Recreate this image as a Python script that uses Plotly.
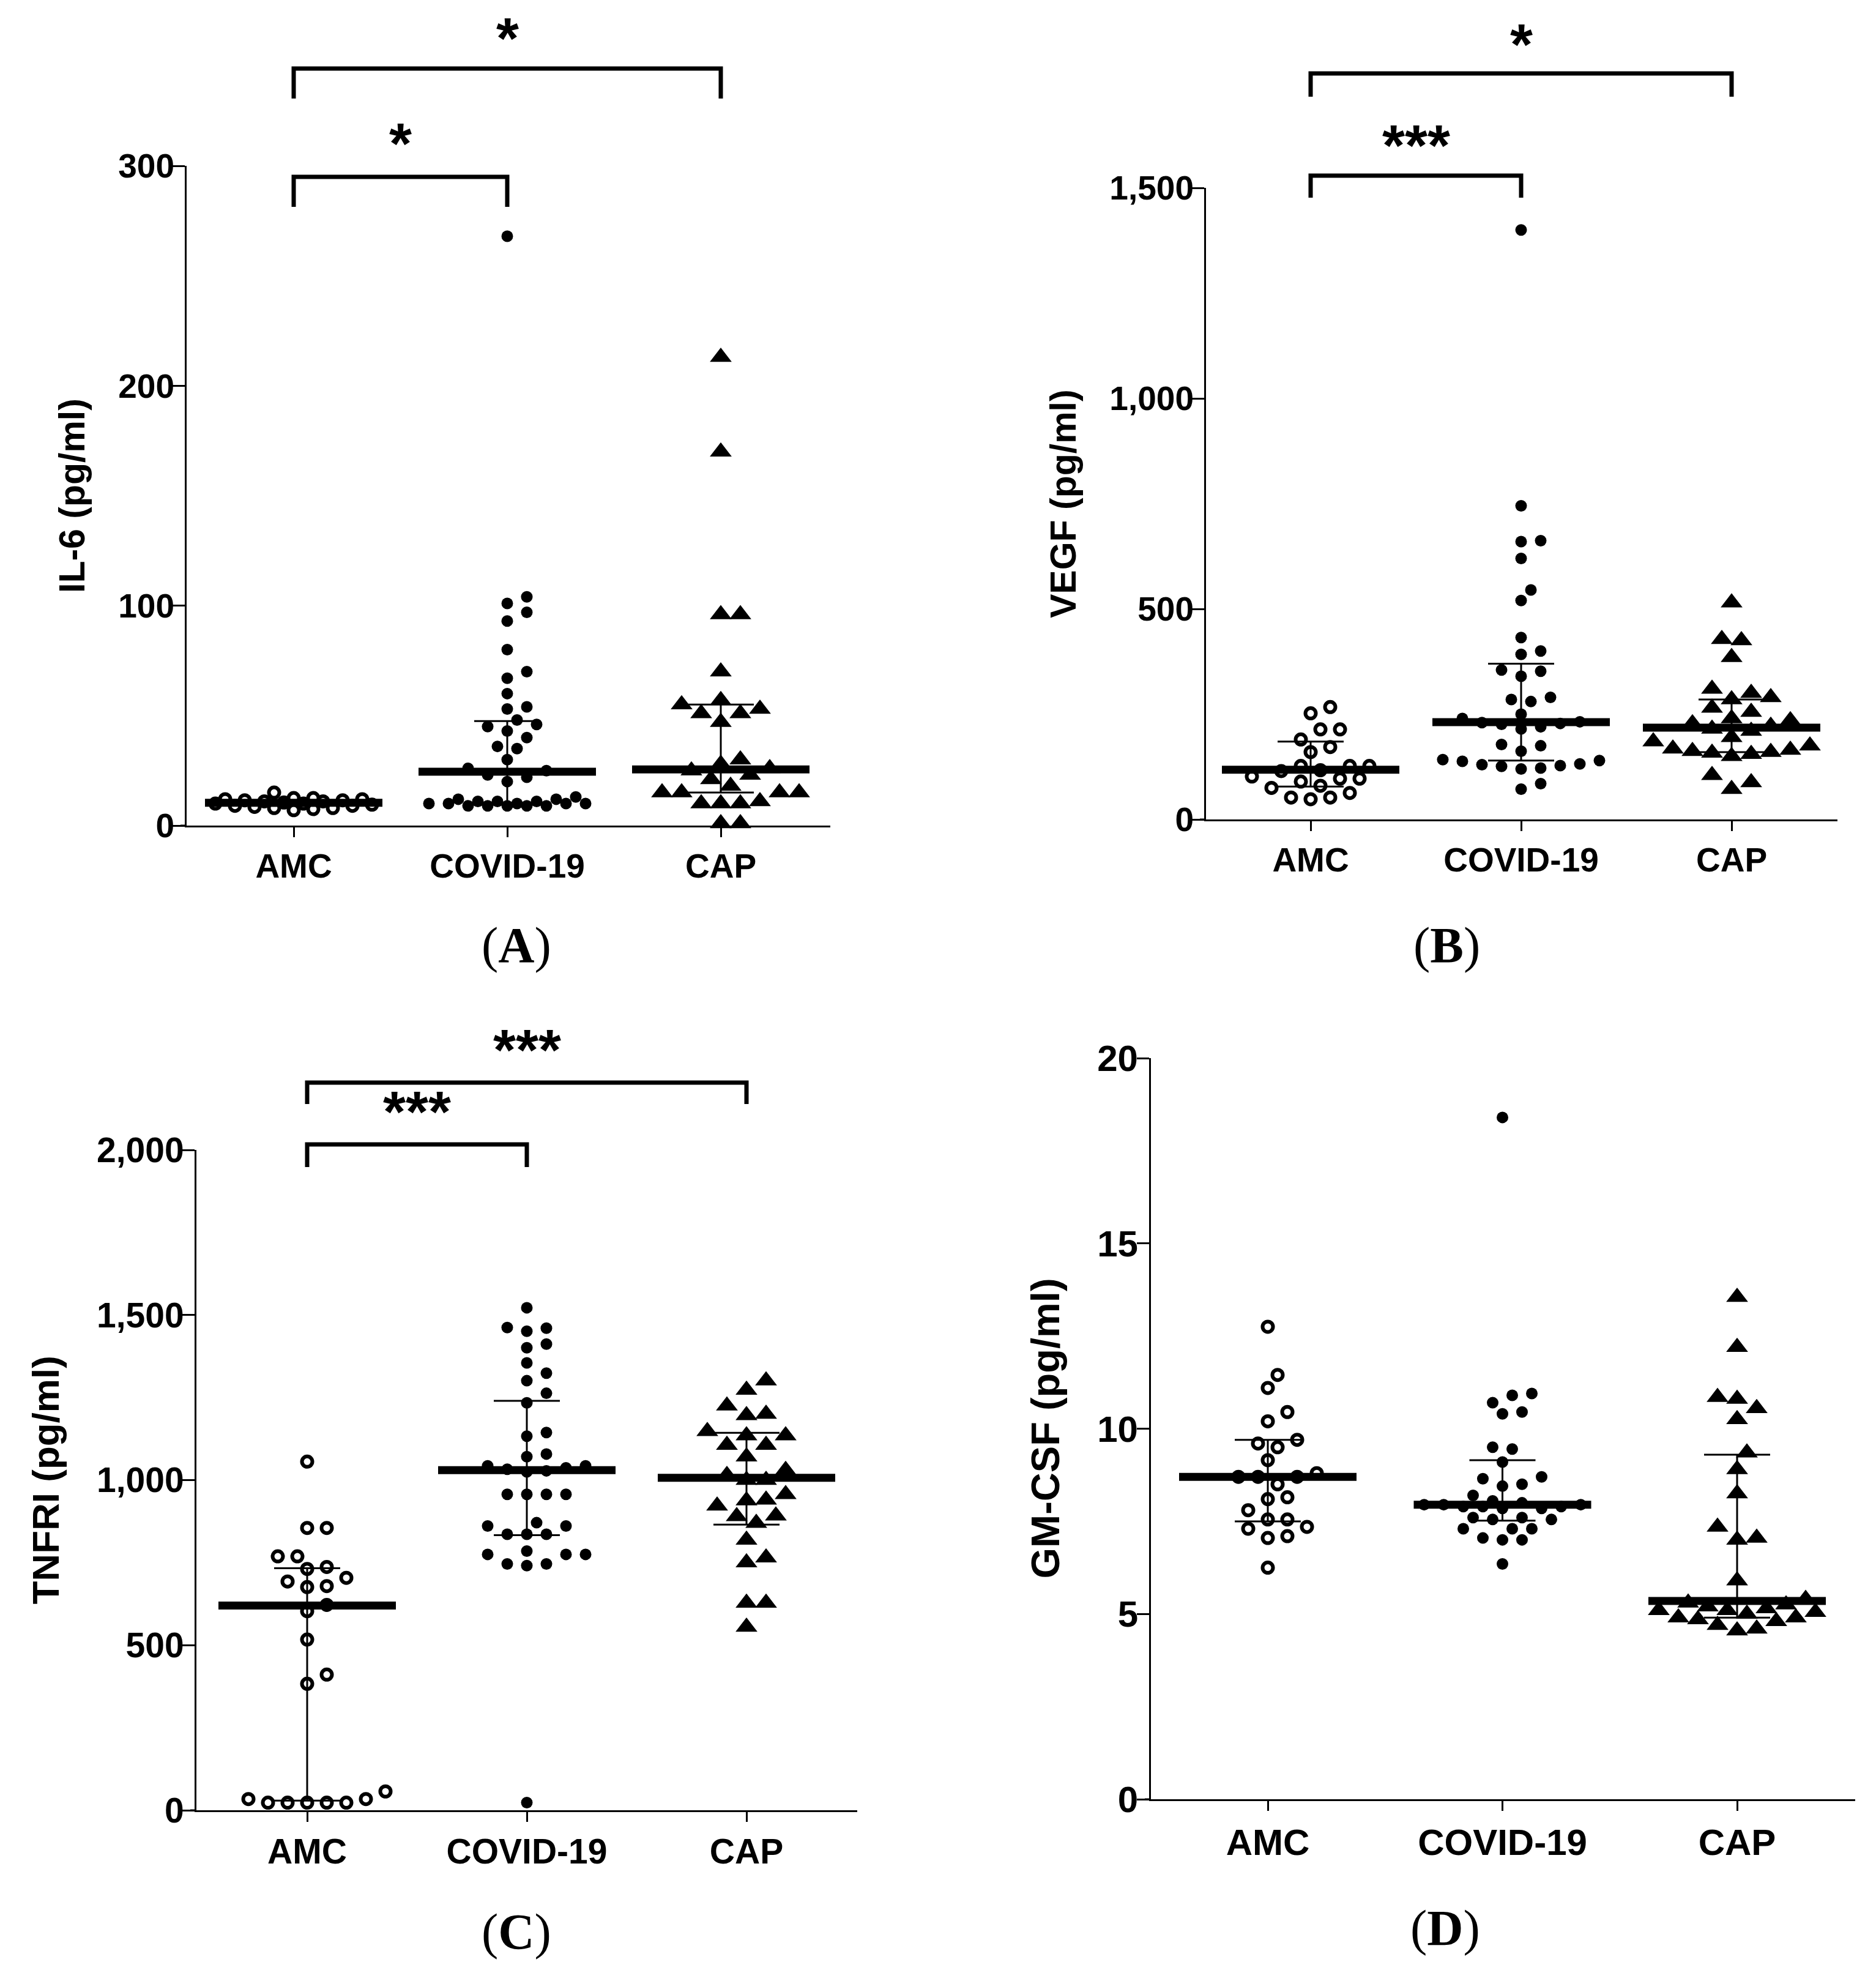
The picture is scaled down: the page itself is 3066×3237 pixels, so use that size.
import numpy as np
import plotly.graph_objects as go

W, H = 3066, 3237

groups = ["AMC", "COVID-19", "CAP"]

# IL-6 (pg/ml)
il6_amc = [12.5, 9.0, 7.0, 11.5, 10.0, 12.0, 8.0, 11.0, 9.5, 12.5, 8.0, 10.5, 11.5, 9.0, 15.0, 10.0, 8.5, 12.0, 7.5, 11.0]
il6_covid = [268, 104, 101, 97, 93, 80, 70, 67, 60, 54, 53, 48, 46, 45, 43, 40, 36, 35, 30, 26,
             25, 23, 22, 20, 13, 12, 12, 11, 11, 11, 10, 10, 10, 10, 10, 9, 9, 9, 9, 9]
il6_cap = [213, 170, 96, 96, 70, 57, 55, 53, 51, 51, 47, 30, 28, 26, 25, 23, 21, 18, 15, 15,
           15, 15, 11, 10, 10, 10, 1, 1]
il6_median = [10.4, 24.5, 25.5]
il6_q1 = [9.0, 10.0, 15.0]
il6_q3 = [11.5, 47.5, 55.0]

# VEGF (pg/ml)
vegf_amc = [267, 252, 214, 214, 190, 172, 160, 127, 127, 127, 117, 115, 102, 97, 97, 90, 80, 75, 63, 52, 52, 48]
vegf_covid = [1400, 745, 662, 660, 620, 545, 520, 432, 400, 392, 355, 352, 340, 290, 285, 280, 250, 240, 232,
              230, 228, 226, 220, 215, 178, 175, 162, 142, 140, 138, 132, 130, 128, 126, 122, 120, 85, 72]
vegf_cap = [515, 428, 425, 385, 310, 300, 290, 285, 265, 255, 240, 235, 228, 222, 215, 210, 195, 185, 175,
            168, 165, 162, 160, 158, 155, 150, 105, 88, 72]
vegf_median = [118, 231, 218]
vegf_q1 = [78, 140, 160]
vegf_q3 = [185, 370, 285]

# TNFRI (pg/ml)
tnf_amc = [1056, 855, 855, 769, 769, 737, 731, 704, 693, 679, 676, 622, 603, 517, 411, 383, 57, 34, 34,
           23, 23, 23, 23, 23]
tnf_covid = [1522, 1462, 1460, 1451, 1412, 1401, 1355, 1324, 1301, 1263, 1234, 1144, 1133, 1079, 1071, 1043,
             1043, 1037, 1033, 1028, 1025, 957, 957, 957, 957, 871, 861, 861, 836, 836, 836, 785, 775, 775,
             775, 746, 746, 741, 23]
tnf_cap = [1301, 1273, 1225, 1200, 1196, 1148, 1135, 1135, 1106, 1106, 1071, 1030, 1015, 1000, 1000, 957,
           940, 938, 922, 892, 890, 870, 819, 765, 750, 628, 628, 555]
tnf_median = [620, 1030, 1007]
tnf_q1 = [29, 833, 865]
tnf_q3 = [733, 1240, 1143]

# GM-CSF (pg/ml)
gm_amc = [12.75, 11.45, 11.1, 10.45, 10.2, 9.7, 9.6, 9.5, 9.15, 8.8, 8.7, 8.7, 8.7, 8.5, 8.15, 8.1, 7.8,
          7.55, 7.55, 7.35, 7.3, 7.1, 7.05, 6.25]
gm_covid = [18.4, 10.95, 10.9, 10.7, 10.45, 10.4, 9.5, 9.45, 9.1, 8.7, 8.65, 8.5, 8.45, 8.2, 8.05, 8.0,
            7.95, 7.95, 7.95, 7.9, 7.9, 7.9, 7.85, 7.85, 7.6, 7.6, 7.55, 7.55, 7.3, 7.3, 7.3, 7.05, 7.0,
            7.0, 6.35]
gm_cap = [13.55, 12.2, 10.85, 10.8, 10.55, 10.25, 9.35, 8.9, 8.25, 7.35, 7.05, 7.0, 5.9, 5.4, 5.3, 5.25,
          5.2, 5.15, 5.1, 5.1, 5.05, 5.0, 4.9, 4.9, 4.85, 4.8, 4.7, 4.6, 4.55]
gm_median = [8.7, 7.95, 5.35]
gm_q1 = [7.5, 7.52, 4.9]
gm_q3 = [9.7, 9.15, 9.3]

# significance brackets: (group a, group b, label)
il6_sig = [(0, 1, "*"), (0, 2, "*")]
vegf_sig = [(0, 1, "***"), (0, 2, "*")]
tnf_sig = [(0, 1, "***"), (0, 2, "***")]

# panel boxes in pixels: left, right, top, bottom; first category px, category spacing px
# bracket rows: (bar y, leg bottom y, star y); title x; panel letter position; font size
panels = [
    dict(name="A", title="IL-6 (pg/ml)", data=[il6_amc, il6_covid, il6_cap],
         med=il6_median, q1=il6_q1, q3=il6_q3, sig=il6_sig,
         box=(297, 1349, 263, 1341), cat=(472, 349), yr=[0, 300], dtick=100,
         brk=[(281, 330, 222), (104, 153, 50)], tx=110, lab=(777, 1536), fs=55),
    dict(name="B", title="VEGF (pg/ml)", data=[vegf_amc, vegf_covid, vegf_cap],
         med=vegf_median, q1=vegf_q1, q3=vegf_q3, sig=vegf_sig,
         box=(1963, 2995, 299, 1331), cat=(2134, 344), yr=[0, 1500], dtick=500,
         brk=[(279, 315, 225), (112, 150, 60)], tx=1730, lab=(2413, 1536), fs=55),
    dict(name="C", title="TNFRI (pg/ml)", data=[tnf_amc, tnf_covid, tnf_cap],
         med=tnf_median, q1=tnf_q1, q3=tnf_q3, sig=tnf_sig,
         box=(313, 1393, 1871, 2950), cat=(494, 359), yr=[0, 2000], dtick=500,
         brk=[(1862, 1899, 1804), (1761, 1796, 1703)], tx=66, lab=(777, 3148), fs=57),
    dict(name="D", title="GM-CSF (pg/ml)", data=[gm_amc, gm_covid, gm_cap],
         med=gm_median, q1=gm_q1, q3=gm_q3, sig=[],
         box=(1873, 3024, 1721, 2932), cat=(2064, 383.5), yr=[0, 20], dtick=5,
         brk=[], tx=1700, lab=(2413, 3142), fs=60),
]

symbols = [dict(symbol="circle", size=17, color="white", line=dict(color="black", width=6)),
           dict(symbol="circle", size=19, color="black", line=dict(width=0)),
           dict(symbol="triangle-up", size=31, color="black", line=dict(width=0))]
min_dist = [25, 23, 29]


def swarm(vals, ypx, xpx, step, dist, max_half):
    # greedy beeswarm in pixel space, returned in category units
    vals = np.asarray(vals, float)
    order = np.argsort(vals)
    placed = []
    offs = np.zeros(len(vals))
    cands = [0.0]
    for k in range(1, 40):
        if k * step / 2 <= max_half:
            cands += [k * step / 2, -k * step / 2]
    for i in order:
        y = vals[i] * ypx
        best = None
        for c in cands:
            if all((c - px) ** 2 + (y - py) ** 2 >= dist ** 2 for px, py in placed):
                best = c
                break
        if best is None:
            best = max(cands, key=lambda c: min(((c - px) ** 2 + (y - py) ** 2) for px, py in placed))
        placed.append((best, y))
        offs[i] = best / xpx
    return offs


def px2x(p):
    return p / W


def px2y(p):
    return 1 - p / H


fig = go.Figure()
annotations = []
shapes = []
font = "Liberation Sans, Arial, sans-serif"

for n, p in enumerate(panels, start=1):
    xa = "x" if n == 1 else f"x{n}"
    ya = "y" if n == 1 else f"y{n}"
    left, right, top, bottom = p["box"]
    c0, xpx = p["cat"]
    xr = [(left - c0) / xpx, (right - c0) / xpx]
    ypx = (bottom - top) / (p["yr"][1] - p["yr"][0])
    half = 145 / xpx
    fs = p["fs"]

    for g, vals in enumerate(p["data"]):
        offs = swarm(vals, ypx, xpx, 32, min_dist[g], 140)
        fig.add_trace(go.Scatter(
            x=g + offs, y=vals, mode="markers", marker=symbols[g],
            xaxis=xa, yaxis=ya, showlegend=False, cliponaxis=False, hoverinfo="y"))

    for g in range(3):
        # interquartile bar
        fig.add_trace(go.Scatter(
            x=[g], y=[p["med"][g]], mode="markers", marker=dict(size=1, color="black", opacity=0),
            error_y=dict(type="data", symmetric=False, array=[p["q3"][g] - p["med"][g]],
                         arrayminus=[p["med"][g] - p["q1"][g]], width=54, thickness=3, color="black"),
            xaxis=xa, yaxis=ya, showlegend=False, hoverinfo="skip"))
        # median line
        fig.add_trace(go.Scatter(
            x=[g - half, g + half], y=[p["med"][g]] * 2, mode="lines",
            line=dict(color="black", width=13), xaxis=xa, yaxis=ya,
            showlegend=False, hoverinfo="skip"))

    axis_common = dict(showline=True, linewidth=3, linecolor="black", ticks="outside",
                       tickwidth=3, tickcolor="black", showgrid=False, zeroline=False)
    fig.update_layout({
        ("xaxis" if n == 1 else f"xaxis{n}"): dict(
            domain=[px2x(left), px2x(right)], range=xr, anchor=ya, ticklen=16,
            tickvals=[0, 1, 2], ticktext=groups, ticklabelstandoff=0,
            tickfont=dict(family=font, size=fs, color="black", weight="bold"), **axis_common),
        ("yaxis" if n == 1 else f"yaxis{n}"): dict(
            domain=[px2y(bottom), px2y(top)], range=p["yr"], anchor=xa, dtick=p["dtick"],
            separatethousands=True, automargin=False, ticklen=20, ticklabelstandoff=-14,
            tickfont=dict(family=font, size=fs, color="black", weight="bold"), **axis_common),
    })

    # x axis runs a little past the y axis, as in the original
    shapes.append(dict(type="line", xref="paper", yref="paper", x0=px2x(left - 10), x1=px2x(left),
                       y0=px2y(bottom), y1=px2y(bottom), line=dict(color="black", width=3)))

    annotations.append(dict(text=f"<b>{p['title']}</b>", textangle=-90, x=px2x(p["tx"]),
                            y=px2y((top + bottom) / 2), xref="paper", yref="paper", showarrow=False,
                            xanchor="center", yanchor="middle",
                            font=dict(family=font, size=round(fs * 1.08), color="black")))

    for (a, b, lab), (bar, leg, sy) in zip(p["sig"], p["brk"]):
        shapes.append(dict(type="path", xref=xa, yref="paper",
                           path=f"M {a},{px2y(leg)} L {a},{px2y(bar)} L {b},{px2y(bar)} L {b},{px2y(leg)}",
                           line=dict(color="black", width=7)))
        annotations.append(dict(text=f"<b>{lab}</b>", x=(a + b) / 2, y=px2y(sy + 4), xref=xa, yref="paper",
                                showarrow=False, yanchor="middle",
                                font=dict(family=font, size=95, color="black")))

    annotations.append(dict(text=f"(<b>{p['name']}</b>)", x=px2x(p["lab"][0]), y=px2y(p["lab"][1]),
                            xref="paper", yref="paper", showarrow=False, yanchor="middle",
                            font=dict(family="Liberation Serif, Times New Roman, serif", size=82,
                                      color="black")))

fig.update_layout(width=W, height=H, autosize=False, margin=dict(l=0, r=0, t=0, b=0),
                  paper_bgcolor="white", plot_bgcolor="white",
                  shapes=shapes, annotations=annotations)

fig.write_html("out.html")
